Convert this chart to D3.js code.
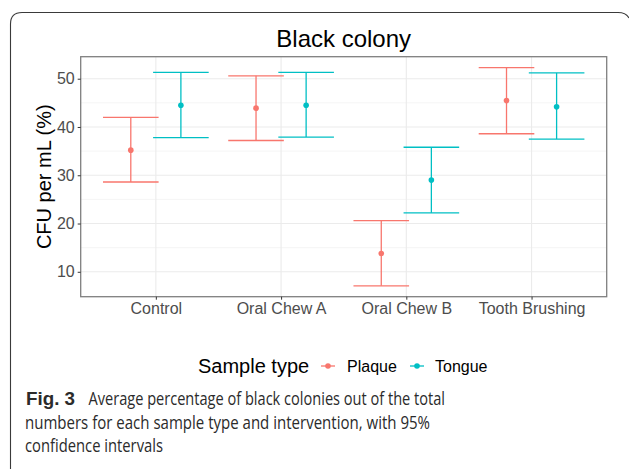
<!DOCTYPE html>
<html>
<head>
<meta charset="utf-8">
<script src="https://cdn.jsdelivr.net/npm/d3@7"></script>
<style>
  body { margin: 0; background: #fff; }
  svg { display: block; }
</style>
</head>
<body>
<div id="root"></div>
<script>
const W = 629, H = 469
const categories = ['Control', 'Oral Chew A', 'Oral Chew B', 'Tooth Brushing']
const sampleTypes = ['Plaque', 'Tongue']
const plaqueMean = [35.2, 43.9, 13.8, 45.5]
const plaqueLow  = [28.6, 37.2, 7.1, 38.6]
const plaqueHigh = [42.0, 50.6, 20.6, 52.3]
const tongueMean = [44.5, 44.5, 29.0, 44.2]
const tongueLow  = [37.8, 37.9, 22.2, 37.5]
const tongueHigh = [51.3, 51.3, 35.8, 51.2]
const yTicks = [10, 20, 30, 40, 50]
const yMinor = [15, 25, 35, 45]
const captionLines = [
  'Average percentage of black colonies out of the total',
  'numbers for each sample type and intervention, with 95%',
  'confidence intervals'
]

const colors = { Plaque: '#F8766D', Tongue: '#00BFC4' }

// build rows for drawing
let rows = []
categories.forEach((c, i) => {
  rows.push({ cat: c, type: 'Plaque', mean: plaqueMean[i], lo: plaqueLow[i], hi: plaqueHigh[i] })
  rows.push({ cat: c, type: 'Tongue', mean: tongueMean[i], lo: tongueLow[i], hi: tongueHigh[i] })
})

let svg = d3.select('#root').append('svg')
  .attr('width', W).attr('height', H)

// outer figure frame
svg.append('path')
  .attr('d', 'M10.5,470 L10.5,24 Q10.5,12.5 22,12.5 L618,12.5 Q626,12.5 629,18')
  .attr('fill', 'none').attr('stroke', '#3a3a3a').attr('stroke-width', 1.1)

const pLeft = 80.7, pRight = 606.7, pTop = 56.7, pBottom = 296.7

let lo = d3.min(rows, d => d.lo), hi = d3.max(rows, d => d.hi)
let pad = (hi - lo) * 0.05
let y = d3.scaleLinear().domain([lo - pad, hi + pad]).range([pBottom, pTop])
let x = d3.scalePoint().domain(categories).range([pLeft, pRight]).padding(0.6)
let step = x.step()
let dodge = d3.scalePoint().domain(sampleTypes).range([-0.2 * step, 0.2 * step])
let capHalf = 0.222 * step

// grid
let grid = svg.append('g')
grid.selectAll('.minor').data(yMinor).enter().append('line')
  .attr('x1', pLeft).attr('x2', pRight)
  .attr('y1', d => y(d)).attr('y2', d => y(d))
  .attr('stroke', '#f3f3f3').attr('stroke-width', 0.8)
grid.selectAll('.majory').data(yTicks).enter().append('line')
  .attr('x1', pLeft).attr('x2', pRight)
  .attr('y1', d => y(d)).attr('y2', d => y(d))
  .attr('stroke', '#ebebeb').attr('stroke-width', 1.1)
grid.selectAll('.majorx').data(categories).enter().append('line')
  .attr('x1', d => x(d)).attr('x2', d => x(d))
  .attr('y1', pTop).attr('y2', pBottom)
  .attr('stroke', '#ebebeb').attr('stroke-width', 1.1)

// error bars
let eb = svg.append('g').selectAll('g').data(rows).enter().append('g')
  .attr('transform', d => `translate(${x(d.cat) + dodge(d.type)},0)`)
  .attr('stroke', d => colors[d.type]).attr('stroke-width', 1.3)
eb.append('line').attr('x1', 0).attr('x2', 0)
  .attr('y1', d => y(d.lo)).attr('y2', d => y(d.hi))
eb.append('line').attr('x1', -capHalf).attr('x2', capHalf)
  .attr('y1', d => y(d.lo)).attr('y2', d => y(d.lo))
eb.append('line').attr('x1', -capHalf).attr('x2', capHalf)
  .attr('y1', d => y(d.hi)).attr('y2', d => y(d.hi))
eb.append('circle').attr('cx', 0).attr('cy', d => y(d.mean)).attr('r', 2.8)
  .attr('fill', d => colors[d.type]).attr('stroke', 'none')

// panel border
svg.append('rect')
  .attr('x', pLeft).attr('y', pTop)
  .attr('width', pRight - pLeft).attr('height', pBottom - pTop)
  .attr('fill', 'none').attr('stroke', '#7f7f7f').attr('stroke-width', 1.3)

// axes
let font = 'Liberation Sans, Arial, sans-serif'
let yAxis = svg.append('g').attr('transform', `translate(${pLeft},0)`)
  .call(d3.axisLeft(y).tickValues(yTicks).tickSize(3).tickPadding(3))
let xAxis = svg.append('g').attr('transform', `translate(0,${pBottom})`)
  .call(d3.axisBottom(x).tickSize(3).tickPadding(3))
;[yAxis, xAxis].forEach(a => {
  a.select('.domain').remove()
  a.selectAll('.tick line').attr('stroke', '#333').attr('stroke-width', 1)
  a.selectAll('.tick text').attr('fill', '#4d4d4d')
    .style('font-family', font).style('font-size', '16px')
})

// titles
svg.append('text').attr('x', (pLeft + pRight) / 2).attr('y', 47)
  .attr('text-anchor', 'middle').style('font-family', font).style('font-size', '24px')
  .attr('fill', '#000').text('Black colony')
svg.append('text')
  .attr('transform', `translate(51,${(pTop + pBottom) / 2}) rotate(-90)`)
  .attr('text-anchor', 'middle').style('font-family', font).style('font-size', '20px')
  .attr('fill', '#000').text('CFU per mL (%)')

// legend
let leg = svg.append('g')
leg.append('text').attr('x', 198).attr('y', 373)
  .style('font-family', font).style('font-size', '20px').text('Sample type')
let keyX = [328, 417]
let keyText = [347, 435]
sampleTypes.forEach((t, i) => {
  leg.append('line').attr('x1', keyX[i] - 7).attr('x2', keyX[i] + 7)
    .attr('y1', 366).attr('y2', 366)
    .attr('stroke', colors[t]).attr('stroke-width', 1.3)
  leg.append('circle').attr('cx', keyX[i]).attr('cy', 366).attr('r', 2.8).attr('fill', colors[t])
  leg.append('text').attr('x', keyText[i]).attr('y', 372)
    .style('font-family', font).style('font-size', '16px').text(t)
})

// caption
let cap = svg.append('g')
  .style('font-family', '"Liberation Sans Narrow", "Open Sans", sans-serif').attr('fill', '#2b2b2b')
cap.append('text').attr('x', 26).attr('y', 405)
  .style('font-family', '"Liberation Sans", sans-serif').style('font-size', '18.5px').style('font-weight', 'bold')
  .attr('textLength', 49).attr('lengthAdjust', 'spacingAndGlyphs').text('Fig. 3')
let capEnds = [445, 430, 163]
let capStarts = [88.5, 25, 25]
captionLines.forEach((l, i) => {
  cap.append('text').attr('x', capStarts[i]).attr('y', 405 + i * 23.5)
    .style('font-size', '19px')
    .attr('textLength', capEnds[i] - capStarts[i]).attr('lengthAdjust', 'spacingAndGlyphs')
    .text(l)
})
</script>
</body>
</html>
